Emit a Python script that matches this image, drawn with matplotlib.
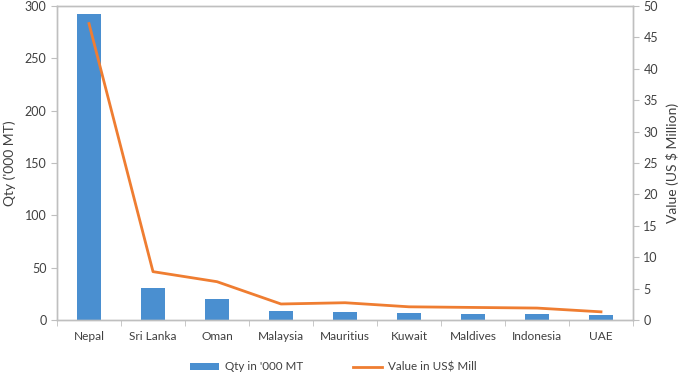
import matplotlib
matplotlib.use("Agg")
import matplotlib.pyplot as plt
import numpy as np

plt.rcParams['font.family'] = ['Lato', 'DejaVu Sans']

countries = ["Nepal", "Sri Lanka", "Oman", "Malaysia", "Mauritius", "Kuwait", "Maldives", "Indonesia", "UAE"]
qty = [292, 30.8, 20, 8.6, 7.6, 7.0, 5.7, 5.7, 5.0]
value = [47.2, 7.7, 6.1, 2.55, 2.75, 2.1, 2.0, 1.9, 1.3]

bar_color = "#4a8fd0"
line_color = "#ef7d31"
axis_color = "#bfbfbf"
text_color = "#404040"

fig = plt.figure(figsize=(6.85, 3.75), dpi=100)
ax = fig.add_axes([57/685, 1 - 320/375, 576/685, 314/375])
x = np.arange(len(countries))
ax.bar(x, qty, width=0.39, color=bar_color, label="Qty in '000 MT", zorder=2)
ax.set_xlim(-0.5, len(countries) - 0.5)
ax.set_ylim(0, 300)
ax.set_yticks(range(0, 301, 50))
ax.set_xticks(x)
ax.set_xticklabels(countries)
ax.set_xticks(np.arange(-0.5, len(countries), 1), minor=True)
ax.tick_params(axis='x', which='major', length=0, pad=8, labelsize=8.6, colors=text_color)
ax.tick_params(axis='x', which='minor', length=4, color=axis_color)
ax.tick_params(axis='y', length=4, color=axis_color, labelsize=9, labelcolor=text_color)
ax.set_ylabel("Qty ('000 MT)", fontsize=10, color=text_color, labelpad=6)

ax2 = ax.twinx()
ax2.plot(x, value, color=line_color, lw=2, label="Value in US$ Mill", zorder=3)
ax2.set_ylim(0, 50)
ax2.set_yticks(range(0, 51, 5))
ax2.tick_params(axis='y', length=4, color=axis_color, labelsize=9, labelcolor=text_color)
ax2.set_ylabel("Value (US $ Million)", fontsize=10, color=text_color, labelpad=6)

for a in (ax, ax2):
    for s in a.spines.values():
        s.set_color(axis_color)
        s.set_linewidth(1)

h1, l1 = ax.get_legend_handles_labels()
h2, l2 = ax2.get_legend_handles_labels()
fig.legend(h1 + h2, l1 + l2, loc='center', bbox_to_anchor=(333/685, 1 - 367/375),
           ncol=2, frameon=False, fontsize=8.4, handlelength=2.5, handleheight=0.5,
           handletextpad=0.5, columnspacing=4.3, labelcolor=text_color)

fig.savefig("out.png", dpi=100)
